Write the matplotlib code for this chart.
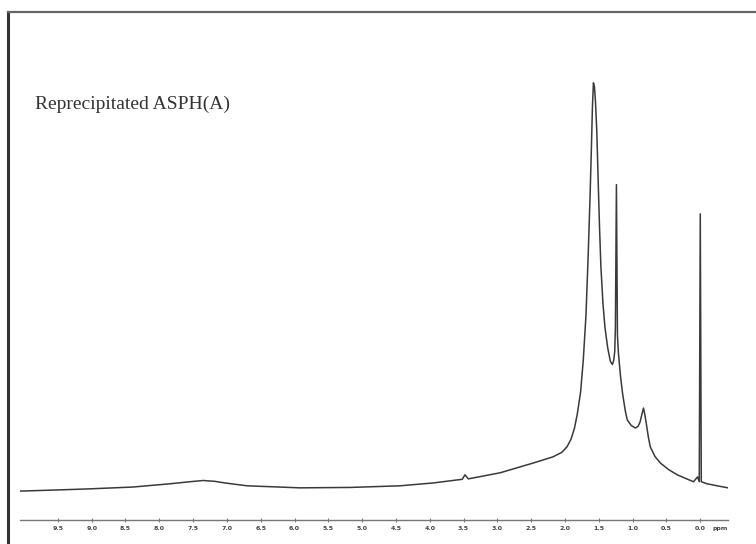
import numpy as np
import matplotlib
matplotlib.use("Agg")
import matplotlib.pyplot as plt

# 1H NMR trace: chemical shift (ppm) vs relative intensity
shift = [10.06, 9.47, 9.03, 8.39, 7.84, 7.55, 7.35, 7.18, 7.03, 6.70, 5.92, 5.18,
         4.44, 3.95, 3.52, 3.48, 3.43, 2.96, 2.47, 2.18, 2.05, 1.97, 1.91, 1.86,
         1.82, 1.77, 1.73, 1.69, 1.66, 1.63, 1.61, 1.595, 1.58, 1.565, 1.55, 1.53,
         1.51, 1.49, 1.47, 1.44, 1.41, 1.37, 1.33, 1.30, 1.28, 1.265, 1.255, 1.24,
         1.225, 1.21, 1.18, 1.15, 1.11, 1.08, 1.02, 0.96, 0.92, 0.89, 0.86, 0.84,
         0.82, 0.80, 0.77, 0.74, 0.67, 0.59, 0.47, 0.34, 0.20, 0.10, 0.04, 0.015,
         0.0, -0.015, -0.10, -0.25, -0.41]
intensity = [-0.3, 0.0, 0.25, 0.7, 1.5, 2.0, 2.3, 2.1, 1.7, 1.0, 0.5, 0.6,
             1.0, 1.7, 2.6, 3.7, 2.7, 4.2, 6.6, 8.1, 9.2, 10.6, 12.5, 15.2,
             18.5, 24.0, 31.9, 43.0, 56.5, 72.0, 84.0, 94.0, 100.0, 99.0, 95.5, 88.0,
             76.0, 64.6, 55.0, 46.0, 40.0, 35.0, 31.6, 30.8, 31.8, 34.0, 40.0, 75.0,
             38.0, 33.5, 28.0, 23.8, 19.5, 17.2, 15.8, 15.2, 15.6, 16.7, 18.8, 20.1,
             18.5, 16.5, 13.2, 10.6, 8.2, 6.6, 5.0, 3.7, 2.7, 2.0, 3.2, 2.0,
             67.8, 2.0, 1.5, 1.0, 0.5]
tick_ppm = [9.5, 9.0, 8.5, 8.0, 7.5, 7.0, 6.5, 6.0, 5.5, 5.0, 4.5, 4.0,
            3.5, 3.0, 2.5, 2.0, 1.5, 1.0, 0.5, 0.0]

fig = plt.figure(figsize=(7.56, 5.44), dpi=100)

# scanned page frame (left and top edges only)
frame = fig.add_axes([8 / 756, 0, 1, (544 - 12) / 544])
frame.set_xticks([]); frame.set_yticks([])
for s in ("right", "bottom"):
    frame.spines[s].set_visible(False)
frame.spines["left"].set_linewidth(2.2); frame.spines["left"].set_color("#333333")
frame.spines["top"].set_linewidth(1.6); frame.spines["top"].set_color("#666666")
frame.patch.set_alpha(0)

ax = fig.add_axes([20 / 756, (544 - 520) / 544, (728 - 20) / 756, (520 - 12) / 544])
ax.patch.set_alpha(0)
ax.plot(shift, intensity, color="#3a3a3a", lw=1.1, solid_joinstyle="round")
ax.set_xlim(10.06, -0.41)
ax.set_ylim(-7.4, 117.4)
for s in ("left", "right", "top"):
    ax.spines[s].set_visible(False)
ax.spines["bottom"].set_color("#777777")
ax.spines["bottom"].set_linewidth(1.0)
ax.set_yticks([])
ax.set_xticks(tick_ppm)
ax.set_xticklabels([f"{t:.1f}" for t in tick_ppm])
ax.tick_params(axis="x", direction="inout", length=3, width=0.8, color="#777777",
               labelsize=4.5, labelcolor="#444444", pad=3)
for lab in ax.get_xticklabels():
    lab.set_fontweight("bold")
ax.text(1.0, -0.012, "ppm", transform=ax.transAxes, ha="right", va="top",
        fontsize=4.5, color="#444444", fontweight="bold")

fig.text(35 / 756, 1 - 104 / 544, "Reprecipitated ASPH(A)", family="Liberation Serif",
         fontsize=14, color="#333333", va="center", ha="left")

fig.savefig("out.png", dpi=100)
